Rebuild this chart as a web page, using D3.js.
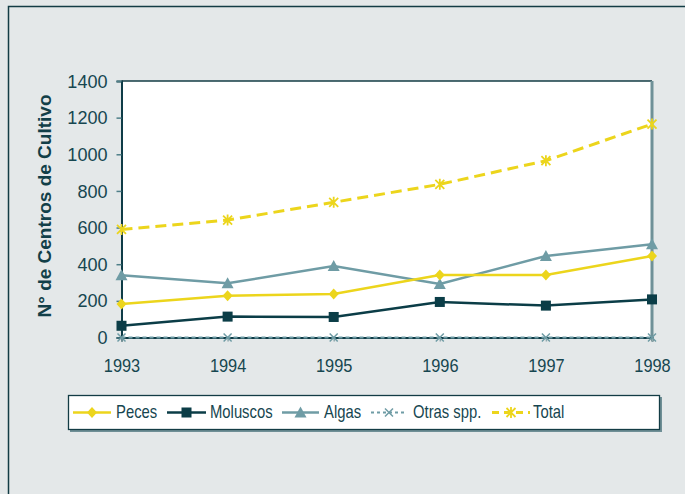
<!DOCTYPE html>
<html><head><meta charset="utf-8">
<script src="https://cdn.jsdelivr.net/npm/d3@7"></script>
<style>
html,body{margin:0;padding:0;background:#e4e8e9;}
svg{display:block;font-family:"Liberation Sans",Arial,sans-serif;}
</style></head><body>
<svg id="c" width="685" height="494"></svg>
<script>
const years = [1993, 1994, 1995, 1996, 1997, 1998];
const peces = [183, 228, 237, 341, 341, 445];
const moluscos = [64, 114, 112, 194, 174, 208];
const algas = [340, 296, 390, 292, 445, 509];
const otras = [0, 0, 0, 0, 0, 0];
const total = [590, 641, 738, 836, 965, 1165];
const yTicks = [0, 200, 400, 600, 800, 1000, 1200, 1400];
const seriesNames = ["Peces", "Moluscos", "Algas", "Otras spp.", "Total"];
const yTitle = "N° de Centros de Cultivo";

const txt = "#164650";
const svg = d3.select("#c");
svg.append("rect").attr("width",685).attr("height",494).attr("fill","#e4e8e9");
// outer frame (left + top)
svg.append("path").attr("d","M8.5,494 V6.5 H685").attr("fill","none").attr("stroke","#133c45").attr("stroke-width",1.5);

const x = d3.scaleLinear().domain([1993,1998]).range([121.5,652]);
const y = d3.scaleLinear().domain([0,1400]).range([337.5,81]);

// plot area
svg.append("rect").attr("x",x(1993)).attr("y",y(1400)).attr("width",x(1998)-x(1993)).attr("height",y(0)-y(1400)).attr("fill","#fff");
svg.append("line").attr("x1",x(1993)).attr("x2",x(1998)).attr("y1",y(1400)).attr("y2",y(1400)).attr("stroke","#133c45").attr("stroke-width",1.5);
svg.append("line").attr("x1",x(1998)).attr("x2",x(1998)).attr("y1",y(1400)).attr("y2",y(0)).attr("stroke","#6f9198").attr("stroke-width",3);

function compress(sel,k){
  sel.each(function(){const w=this.getComputedTextLength();this.setAttribute("textLength",w*k);this.setAttribute("lengthAdjust","spacingAndGlyphs");});
}

// y axis
const gy = svg.append("g").attr("transform",`translate(${x(1993)},0)`)
  .call(d3.axisLeft(y).tickValues(yTicks).tickSize(5).tickPadding(9).tickFormat(d3.format("d")));
gy.select(".domain").attr("stroke","#0e3c47").attr("stroke-width",2);
gy.selectAll(".tick line").attr("stroke","#4f7f88").attr("stroke-width",1.5);
gy.selectAll(".tick text").attr("fill",txt).attr("font-size",19).attr("font-family","Liberation Sans, Arial, sans-serif");
compress(gy.selectAll(".tick text"),0.95);

// x axis
const gx = svg.append("g").attr("transform",`translate(0,${y(0)})`)
  .call(d3.axisBottom(x).tickValues(years).tickSize(4).tickPadding(17.5).tickFormat(d3.format("d")));
gx.select(".domain").attr("stroke","#0e3c47").attr("stroke-width",2);
gx.selectAll(".tick line").attr("stroke","#8fa9ae").attr("stroke-width",1.5);
gx.selectAll(".tick text").attr("fill",txt).attr("font-size",19).attr("font-family","Liberation Sans, Arial, sans-serif");
compress(gx.selectAll(".tick text"),0.86);

// y title
svg.append("text").attr("transform","translate(51,206) rotate(-90)").attr("text-anchor","middle")
  .attr("font-size",19).attr("font-weight","bold").attr("fill","#123f48").text(yTitle);

// markers
function diamond(g,cx,cy,c){g.append("path").attr("d",`M${cx},${cy-5.5}L${cx+5},${cy}L${cx},${cy+5.5}L${cx-5},${cy}Z`).attr("fill",c);}
function square(g,cx,cy,c){g.append("rect").attr("x",cx-5).attr("y",cy-5).attr("width",10).attr("height",10).attr("fill",c);}
function tri(g,cx,cy,c){g.append("path").attr("d",`M${cx},${cy-6}L${cx+6},${cy+5}L${cx-6},${cy+5}Z`).attr("fill",c);}
function xm(g,cx,cy,c){g.append("path").attr("d",`M${cx-4},${cy-4}L${cx+4},${cy+4}M${cx-4},${cy+4}L${cx+4},${cy-4}`).attr("stroke",c).attr("stroke-width",1.5).attr("fill","none");}
function ast(g,cx,cy,c){g.append("path").attr("d",`M${cx-4.5},${cy-4.5}L${cx+4.5},${cy+4.5}M${cx-4.5},${cy+4.5}L${cx+4.5},${cy-4.5}M${cx},${cy-5.5}L${cx},${cy+5.5}`).attr("stroke",c).attr("stroke-width",1.8).attr("fill","none");}

const series = [
  {name:seriesNames[3], vals:otras, color:"#6f9ca5", w:2, dash:"4,3", mk:xm},
  {name:seriesNames[4], vals:total, color:"#ecd51c", w:3, dash:"11,6", mk:ast},
  {name:seriesNames[2], vals:algas, color:"#6f9ca5", w:2.5, dash:null, mk:tri},
  {name:seriesNames[0], vals:peces, color:"#ecd51c", w:2.5, dash:null, mk:diamond},
  {name:seriesNames[1], vals:moluscos, color:"#0b3d47", w:2.5, dash:null, mk:square}
];
const line = d3.line().x((d,i)=>x(years[i])).y(d=>y(d));
const gp = svg.append("g");
series.forEach(s=>{
  const p = gp.append("path").datum(s.vals).attr("d",line).attr("fill","none").attr("stroke",s.color).attr("stroke-width",s.w);
  if(s.dash) p.attr("stroke-dasharray",s.dash);
  s.vals.forEach((v,i)=>s.mk(gp,x(years[i]),y(v),s.color));
});

// legend
const lg = svg.append("g");
lg.append("rect").attr("x",70).attr("y",397).attr("width",592).attr("height",35).attr("fill","#6f8f96");
lg.append("rect").attr("x",68.5).attr("y",395.5).attr("width",591).attr("height",34).attr("fill","#fff").attr("stroke","#133c45").attr("stroke-width",1.3);
const legendItems = [
  {s:series[3], x0:73, x1:111, tx:116},
  {s:series[4], x0:167, x1:206, tx:210},
  {s:series[2], x0:282, x1:319, tx:324},
  {s:series[0], x0:371, x1:407, tx:413},
  {s:series[1], x0:492, x1:530, tx:533}
];
const ly = 412.5;
legendItems.forEach(it=>{
  const s = it.s;
  const l = lg.append("line").attr("x1",it.x0).attr("x2",it.x1).attr("y1",ly).attr("y2",ly).attr("stroke",s.color).attr("stroke-width",s.w);
  if(s.dash) l.attr("stroke-dasharray",s.dash===("11,6")?"7,5":"3,3");
  s.mk(lg,(it.x0+it.x1)/2,ly,s.color);
  const t = lg.append("text").attr("x",it.tx).attr("y",417.5).attr("font-size",19).attr("fill",txt).text(s.name);
  compress(t,0.78);
});
</script></body></html>
